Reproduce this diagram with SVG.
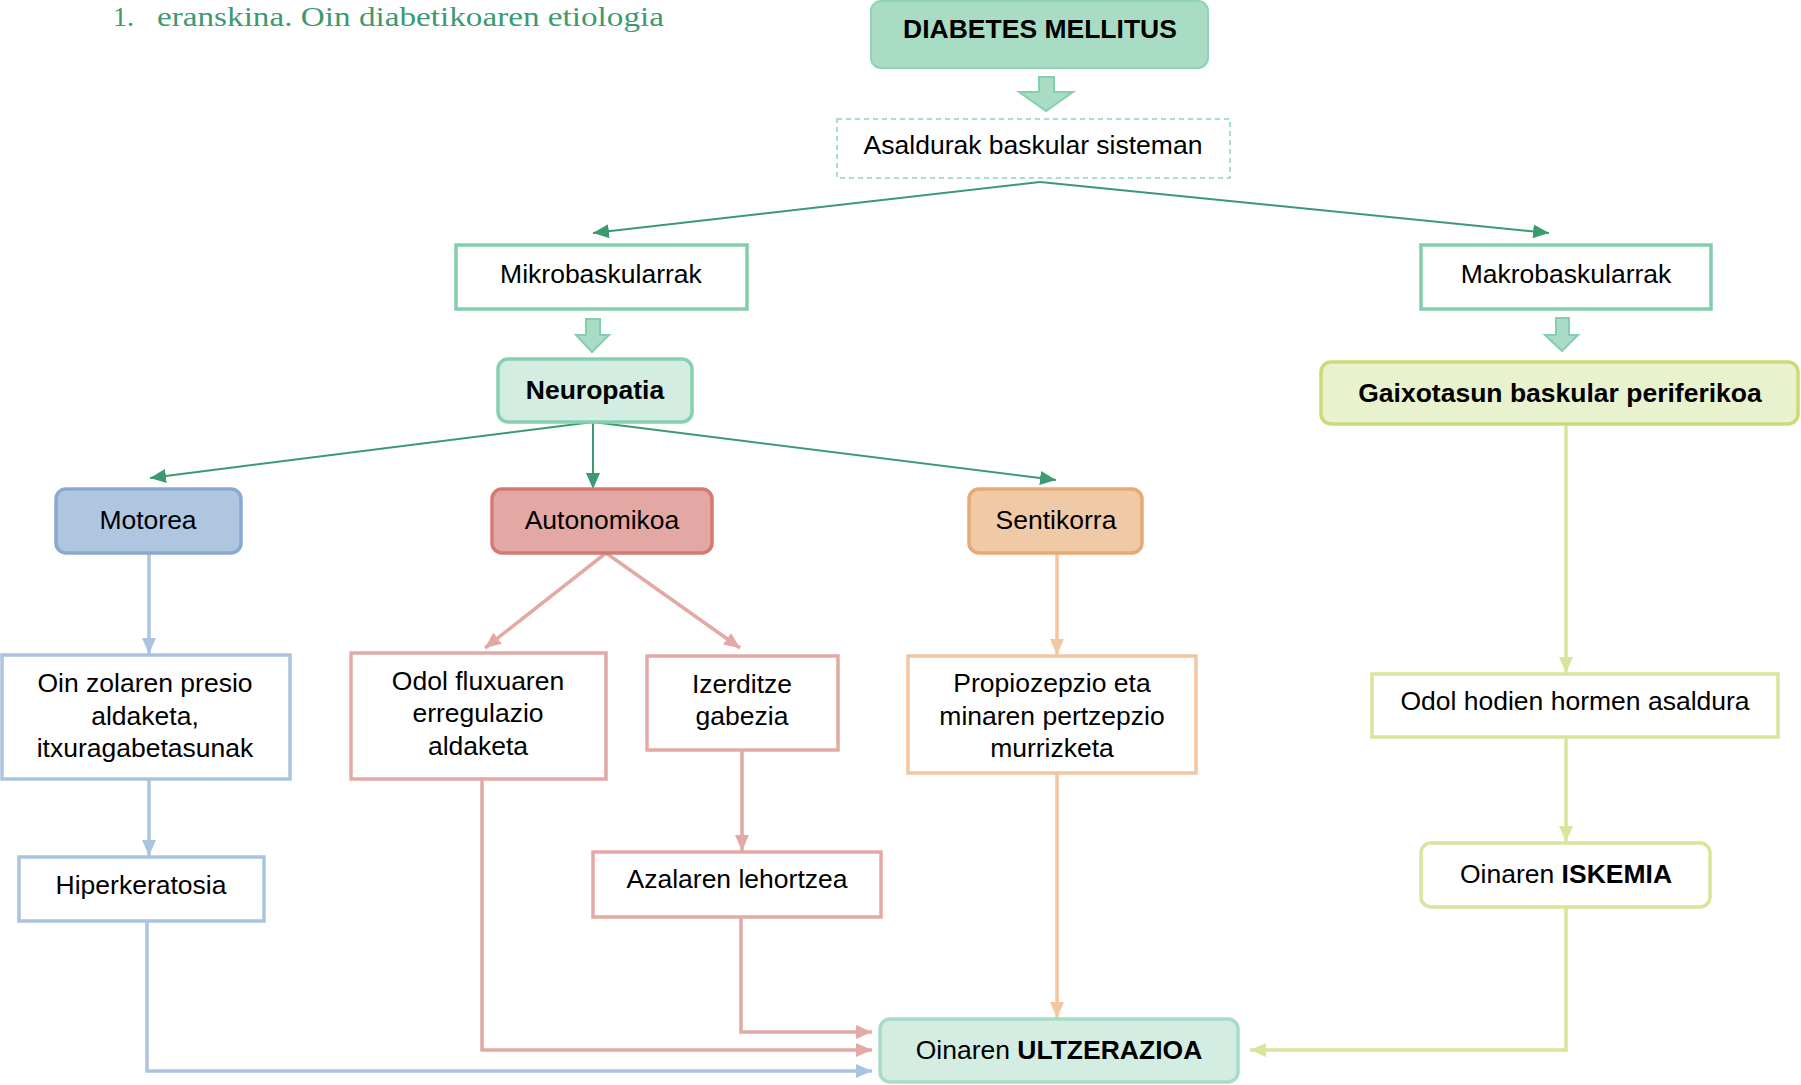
<svg xmlns="http://www.w3.org/2000/svg" width="1801" height="1085" viewBox="0 0 1801 1085">
<defs>
<style>
text{font-family:"Liberation Sans",Arial,sans-serif;font-size:26.5px;fill:#000;text-anchor:middle}
.b{font-weight:bold}
.title{font-family:"Liberation Serif","Times New Roman",serif;font-size:28px;fill:#3d9a70;text-anchor:start}
.box{fill:#fff;stroke-width:3.5}
.teal{stroke:#82cdab}
.blue{stroke:#aac4e0}
.red{stroke:#e3a9a5}
.org{stroke:#f2c7a2}
.ylw{stroke:#d8e59b}
.blk{fill:#a8dcc5;stroke:#86cfae;stroke-width:2}
.cg{fill:none;stroke:#3d9a70;stroke-width:2}
.cb{fill:none;stroke:#aac4e0;stroke-width:3.5}
.cr{fill:none;stroke:#e3a9a5;stroke-width:3.5}
.co{fill:none;stroke:#f2c7a2;stroke-width:3.5}
.cy{fill:none;stroke:#d8e59b;stroke-width:3.5}
</style>
<marker id="mg" markerUnits="userSpaceOnUse" markerWidth="16" markerHeight="14" refX="16" refY="7" orient="auto"><path d="M0,0 L16,7 L0,14 z" fill="#3d9a70"/></marker>
<marker id="mb" markerUnits="userSpaceOnUse" markerWidth="16" markerHeight="14" refX="16" refY="7" orient="auto"><path d="M0,0 L16,7 L0,14 z" fill="#aac4e0"/></marker>
<marker id="mr" markerUnits="userSpaceOnUse" markerWidth="16" markerHeight="14" refX="16" refY="7" orient="auto"><path d="M0,0 L16,7 L0,14 z" fill="#e3a9a5"/></marker>
<marker id="mo" markerUnits="userSpaceOnUse" markerWidth="16" markerHeight="14" refX="16" refY="7" orient="auto"><path d="M0,0 L16,7 L0,14 z" fill="#f2c7a2"/></marker>
<marker id="my" markerUnits="userSpaceOnUse" markerWidth="16" markerHeight="14" refX="16" refY="7" orient="auto"><path d="M0,0 L16,7 L0,14 z" fill="#d8e59b"/></marker>
</defs>
<rect width="1801" height="1085" fill="#fff"/>

<g id="title">
<text class="title" x="113" y="26">1.</text>
<text class="title" x="157" y="26" textLength="507" lengthAdjust="spacingAndGlyphs">eranskina. Oin diabetikoaren etiologia</text>
</g>

<g id="connectors">
<polygon class="blk" points="1039,77 1054,77 1054,92 1073,92 1046,111 1019,92 1039,92"/>
<polygon class="blk" points="586,319 600,319 600,335 609,335 592,352 576,335 586,335"/>
<polygon class="blk" points="1556,318 1569,318 1569,335 1578,335 1562,351 1545,335 1556,335"/>
<path class="cg" d="M1040,182 L593,233" marker-end="url(#mg)"/>
<path class="cg" d="M1040,182 L1549,233" marker-end="url(#mg)"/>
<path class="cg" d="M593,422 L150,478" marker-end="url(#mg)"/>
<path class="cg" d="M593,422 L593,489" marker-end="url(#mg)"/>
<path class="cg" d="M593,422 L1056,480" marker-end="url(#mg)"/>
<path class="cb" d="M149,553 L149,654" marker-end="url(#mb)"/>
<path class="cr" d="M606,553 L485,648" marker-end="url(#mr)"/>
<path class="cr" d="M606,553 L740,648" marker-end="url(#mr)"/>
<path class="co" d="M1057,553 L1057,655" marker-end="url(#mo)"/>
<path class="cy" d="M1566,424 L1566,673" marker-end="url(#my)"/>
<path class="cb" d="M149,779 L149,856" marker-end="url(#mb)"/>
<path class="cr" d="M742,750 L742,851" marker-end="url(#mr)"/>
<path class="cy" d="M1566,737 L1566,842" marker-end="url(#my)"/>
<path class="cb" d="M147,921 L147,1071 L872,1071" marker-end="url(#mb)"/>
<path class="cr" d="M482,779 L482,1050 L872,1050" marker-end="url(#mr)"/>
<path class="cr" d="M741,917 L741,1032 L872,1032" marker-end="url(#mr)"/>
<path class="co" d="M1057,773 L1057,1018" marker-end="url(#mo)"/>
<path class="cy" d="M1566,907 L1566,1050 L1250,1050" marker-end="url(#my)"/>
</g>

<g id="diabetes">
<rect x="871" y="1" width="337" height="67" rx="10" fill="#a8dcc5" stroke="#90d3b6" stroke-width="2"/>
<text class="b" x="1040" y="38">DIABETES MELLITUS</text>
</g>
<g id="asaldurak">
<rect x="837" y="119" width="393" height="59" fill="#fff" stroke="#8fd3b5" stroke-width="1.5" stroke-dasharray="5,4"/>
<text x="1033" y="154">Asaldurak baskular sisteman</text>
</g>
<g id="mikro">
<rect class="box teal" x="456" y="245" width="291" height="64"/>
<text x="601" y="283">Mikrobaskularrak</text>
</g>
<g id="makro">
<rect class="box teal" x="1421" y="245" width="290" height="64"/>
<text x="1566" y="283">Makrobaskularrak</text>
</g>
<g id="neuropatia">
<rect x="498" y="359" width="194" height="63" rx="10" fill="#d4ede2" stroke="#88d0b0" stroke-width="3.5"/>
<text class="b" x="595" y="399">Neuropatia</text>
</g>
<g id="gaixotasun">
<rect x="1321" y="362" width="477" height="62" rx="10" fill="#e9f2cf" stroke="#c9dc79" stroke-width="3.5"/>
<text class="b" x="1560" y="402">Gaixotasun baskular periferikoa</text>
</g>
<g id="motorea">
<rect x="56" y="489" width="185" height="64" rx="10" fill="#afc6e0" stroke="#8aa9d1" stroke-width="3.5"/>
<text x="148" y="529">Motorea</text>
</g>
<g id="autonomikoa">
<rect x="492" y="489" width="220" height="64" rx="10" fill="#e3a8a4" stroke="#d57a72" stroke-width="3.5"/>
<text x="602" y="529">Autonomikoa</text>
</g>
<g id="sentikorra">
<rect x="969" y="489" width="173" height="64" rx="10" fill="#f0c9a6" stroke="#e8a975" stroke-width="3.5"/>
<text x="1056" y="529">Sentikorra</text>
</g>
<g id="oinzolaren">
<rect class="box blue" x="2" y="655" width="288" height="124"/>
<text x="145" y="692">Oin zolaren presio</text>
<text x="145" y="725">aldaketa,</text>
<text x="145" y="757">itxuragabetasunak</text>
</g>
<g id="odolfluxuaren">
<rect class="box red" x="351" y="653" width="255" height="126"/>
<text x="478" y="690">Odol fluxuaren</text>
<text x="478" y="722">erregulazio</text>
<text x="478" y="755">aldaketa</text>
</g>
<g id="izerditze">
<rect class="box red" x="647" y="656" width="191" height="94"/>
<text x="742" y="693">Izerditze</text>
<text x="742" y="725">gabezia</text>
</g>
<g id="propiozepzio">
<rect class="box org" x="908" y="656" width="288" height="117"/>
<text x="1052" y="692">Propiozepzio eta</text>
<text x="1052" y="725">minaren pertzepzio</text>
<text x="1052" y="757">murrizketa</text>
</g>
<g id="odolhodien">
<rect class="box ylw" x="1372" y="674" width="406" height="63"/>
<text x="1575" y="710">Odol hodien hormen asaldura</text>
</g>
<g id="hiperkeratosia">
<rect class="box blue" x="19" y="857" width="245" height="64"/>
<text x="141" y="894">Hiperkeratosia</text>
</g>
<g id="azalaren">
<rect class="box red" x="593" y="852" width="288" height="65"/>
<text x="737" y="888">Azalaren lehortzea</text>
</g>
<g id="iskemia">
<rect class="box ylw" x="1421" y="843" width="289" height="64" rx="10"/>
<text x="1566" y="883">Oinaren <tspan class="b">ISKEMIA</tspan></text>
</g>
<g id="ultzerazioa">
<rect x="880" y="1019" width="358" height="63" rx="10" fill="#d4ede2" stroke="#a8dcc6" stroke-width="3.5"/>
<text x="1059" y="1059">Oinaren <tspan class="b">ULTZERAZIOA</tspan></text>
</g>
</svg>
